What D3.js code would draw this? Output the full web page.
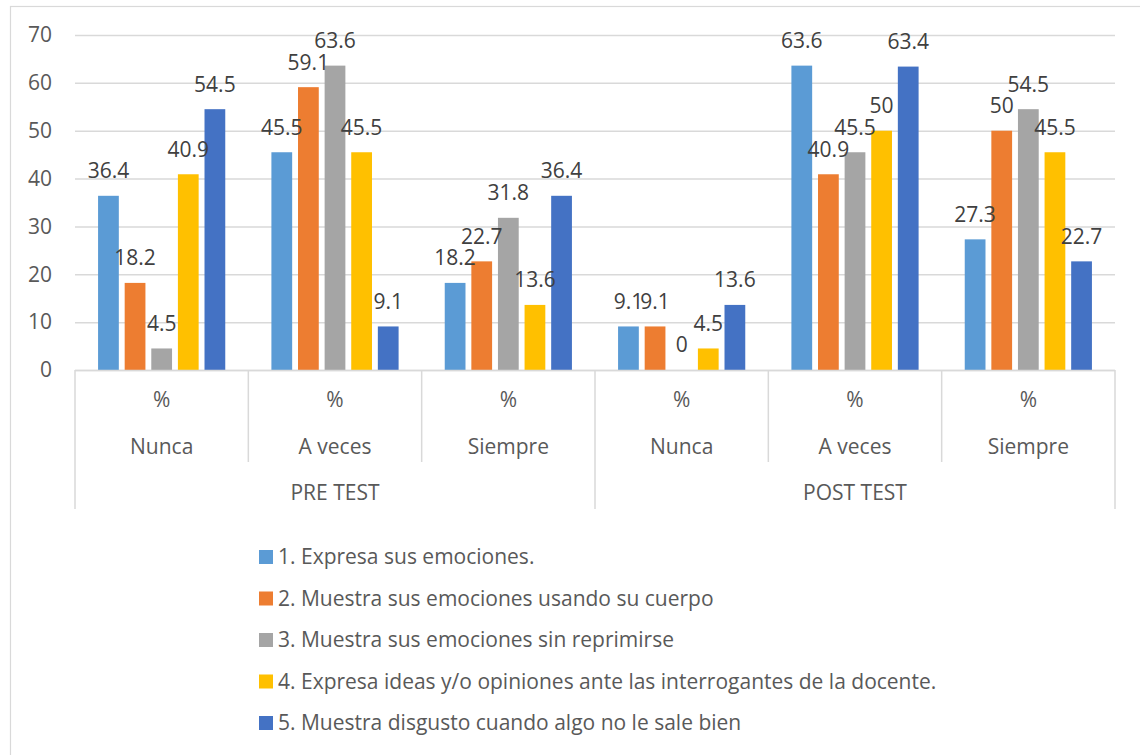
<!DOCTYPE html>
<html lang="es">
  <head>
    <meta charset="UTF-8" />
    <title>Pre test / Post test</title>
    <script src="https://cdn.jsdelivr.net/npm/d3@7"></script>
    <style>
      body { margin: 0; background: #fff; }
      text { font-family: 'Open Sans', sans-serif; }
    </style>
  </head>
  <body>
    <div id='app'></div>

    <script>
  // data
  const tests = ['PRE TEST', 'POST TEST']
  const answers = ['Nunca', 'A veces', 'Siempre']
  const unitLabel = '%'
  const seriesNames = [
    '1. Expresa sus emociones.',
    '2. Muestra sus emociones usando su cuerpo',
    '3. Muestra sus emociones sin reprimirse',
    '4. Expresa ideas y/o opiniones ante las interrogantes de la docente.',
    '5. Muestra disgusto cuando algo no le sale bien'
  ]
  // one value per category: PRE Nunca, A veces, Siempre, POST Nunca, A veces, Siempre
  const s1 = [36.4, 45.5, 18.2, 9.1, 63.6, 27.3]
  const s2 = [18.2, 59.1, 22.7, 9.1, 40.9, 50]
  const s3 = [4.5, 63.6, 31.8, 0, 45.5, 54.5]
  const s4 = [40.9, 45.5, 13.6, 4.5, 50, 45.5]
  const s5 = [54.5, 9.1, 36.4, 13.6, 63.4, 22.7]
  const yTicks = [0, 10, 20, 30, 40, 50, 60, 70]

  const colors = ['#5B9BD5', '#ED7D31', '#A5A5A5', '#FFC000', '#4472C4']
  const allSeries = [s1, s2, s3, s4, s5]

  const width = 1140
  const height = 755
  const plot = { left: 75, right: 1115, top: 35, bottom: 370 }

  // categories: one per (test, answer)
  const cats = []
  tests.forEach(t => answers.forEach(a => cats.push({ test: t, answer: a, key: t + '|' + a })))

  const svg = d3.select('#app').append('svg')
    .attr('width', width)
    .attr('height', height)

  // chart border
  svg.append('rect')
    .attr('x', 10.5).attr('y', 6.5)
    .attr('width', width + 20).attr('height', height + 20)
    .attr('fill', '#fff')
    .attr('stroke', '#D9D9D9')
    .attr('stroke-width', 1.2)

  const x0 = d3.scaleBand()
    .domain(cats.map(c => c.key))
    .range([plot.left, plot.right])
    .padding(0)

  const x1 = d3.scaleBand()
    .domain(d3.range(allSeries.length))
    .range([0, x0.bandwidth()])
    .paddingInner(0.22)
    .paddingOuter(0.867)

  const y = d3.scaleLinear()
    .domain([0, 70])
    .range([plot.bottom, plot.top])

  // gridlines + y tick labels
  const yAxis = d3.axisLeft(y)
    .tickValues(yTicks)
    .tickSize(-(plot.right - plot.left))
    .tickPadding(23)
  const gy = svg.append('g')
    .attr('transform', `translate(${plot.left},0)`)
    .call(yAxis)
  gy.select('.domain').remove()
  gy.selectAll('line').attr('stroke', '#D9D9D9').attr('stroke-width', 1.5)
  gy.selectAll('text')
    .attr('fill', '#595959')
    .attr('font-size', 21)
    .style('font-family', "'Open Sans', sans-serif")

  // bars
  const groups = svg.append('g').selectAll('g')
    .data(allSeries)
    .join('g')
    .attr('fill', (d, i) => colors[i])

  groups.selectAll('rect')
    .data((vals, si) => vals.map((v, ci) => ({ v, si, ci })))
    .join('rect')
    .attr('x', d => x0(cats[d.ci].key) + x1(d.si))
    .attr('width', x1.bandwidth())
    .attr('y', d => y(d.v))
    .attr('height', d => y(0) - y(d.v))

  // data labels
  const labels = svg.append('g')
  allSeries.forEach((vals, si) => {
    labels.selectAll(null)
      .data(vals.map((v, ci) => ({ v, ci })))
      .join('text')
      .attr('x', d => x0(cats[d.ci].key) + x1(si) + x1.bandwidth() / 2)
      .attr('y', d => y(d.v) - 25)
      .attr('dy', '0.35em')
      .attr('text-anchor', 'middle')
      .attr('font-size', 21)
      .attr('fill', '#404040')
      .text(d => d.v)
  })

  // x axis line
  svg.append('line')
    .attr('x1', plot.left).attr('x2', plot.right)
    .attr('y1', plot.bottom + 0.5).attr('y2', plot.bottom + 0.5)
    .attr('stroke', '#D9D9D9').attr('stroke-width', 1.5)

  // multi-level category axis
  const axisG = svg.append('g')
  const rowUnit = 400
  const rowAnswer = 447
  const rowTest = 493
  const innerBottom = 462
  const outerBottom = 509

  // separators between answers
  axisG.selectAll('.sep')
    .data(cats.slice(1))
    .join('line')
    .attr('x1', d => x0(d.key)).attr('x2', d => x0(d.key))
    .attr('y1', plot.bottom).attr('y2', d => d.answer === answers[0] ? outerBottom : innerBottom)
    .attr('stroke', '#D9D9D9').attr('stroke-width', 1.5)
  // outer edges
  ;[plot.left, plot.right].forEach(xv => {
    axisG.append('line')
      .attr('x1', xv).attr('x2', xv)
      .attr('y1', plot.bottom).attr('y2', outerBottom)
      .attr('stroke', '#D9D9D9').attr('stroke-width', 1.5)
  })

  axisG.selectAll('.unit')
    .data(cats)
    .join('text')
    .attr('x', d => x0(d.key) + x0.bandwidth() / 2)
    .attr('y', rowUnit)
    .attr('dy', '0.35em')
    .attr('text-anchor', 'middle')
    .attr('font-size', 21)
    .attr('fill', '#595959')
    .text(unitLabel)

  axisG.selectAll('.answer')
    .data(cats)
    .join('text')
    .attr('x', d => x0(d.key) + x0.bandwidth() / 2)
    .attr('y', rowAnswer)
    .attr('dy', '0.35em')
    .attr('text-anchor', 'middle')
    .attr('font-size', 21)
    .attr('fill', '#595959')
    .text(d => d.answer)

  axisG.selectAll('.test')
    .data(tests)
    .join('text')
    .attr('x', t => {
      const first = cats.find(c => c.test === t)
      return x0(first.key) + x0.bandwidth() * answers.length / 2
    })
    .attr('y', rowTest)
    .attr('dy', '0.35em')
    .attr('text-anchor', 'middle')
    .attr('font-size', 21)
    .attr('fill', '#595959')
    .text(t => t)

  // legend
  const legend = svg.append('g')
    .attr('transform', 'translate(259,557)')
  const item = legend.selectAll('g')
    .data(seriesNames)
    .join('g')
    .attr('transform', (d, i) => `translate(0,${i * 41.5})`)
  item.append('rect')
    .attr('x', 0).attr('y', -7)
    .attr('width', 14).attr('height', 14)
    .attr('fill', (d, i) => colors[i])
  item.append('text')
    .attr('x', 19)
    .attr('dy', '0.35em')
    .attr('font-size', 21)
    .attr('fill', '#595959')
    .text(d => d)
    </script>
  </body>
</html>
